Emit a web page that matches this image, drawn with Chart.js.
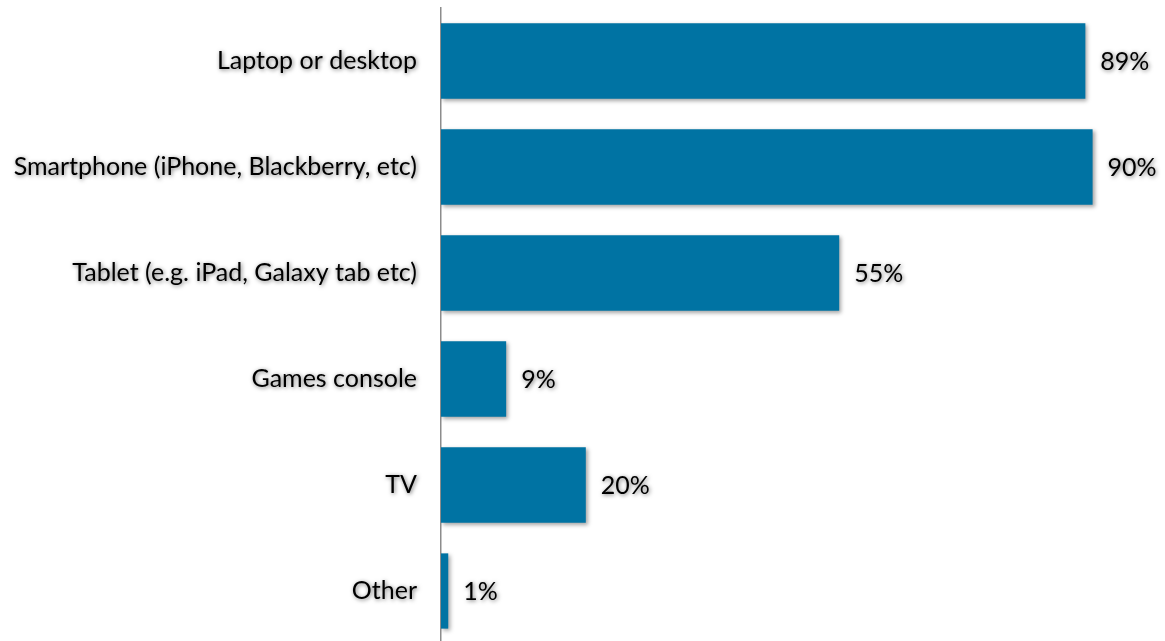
<!DOCTYPE html>
<html>
<head>
<meta charset="utf-8">
<script src="https://cdn.jsdelivr.net/npm/chart.js@4.4.1/dist/chart.umd.min.js"></script>
<style>
html,body{margin:0;padding:0;background:#fff;overflow:hidden;}
canvas{display:block;}
</style>
</head>
<body>
<canvas id="c" width="1165" height="652" style="width:1165px;height:652px"></canvas>
<script>
const categories = ["Laptop or desktop","Smartphone (iPhone, Blackberry, etc)","Tablet (e.g. iPad, Galaxy tab etc)","Games console","TV","Other"];
const values = [89, 90, 55, 9, 20, 1];
const valueLabels = ["89%","90%","55%","9%","20%","1%"];

const FONT = "Lato";

const shadowPlugin = {
  id: 'shadows',
  afterLayout(chart){
    const s = chart.scales.y;
    if (!s._wrapped) {
      const orig = s.drawLabels;
      s.drawLabels = function(area){
        const ctx = this.ctx;
        ctx.save();
        ctx.shadowColor = 'rgba(0,0,0,0.55)';
        ctx.shadowBlur = 4;
        ctx.shadowOffsetX = 1;
        ctx.shadowOffsetY = 1;
        orig.call(this, area);
        ctx.restore();
      };
      s._wrapped = true;
    }
  },
  beforeDatasetDraw(chart){
    const ctx = chart.ctx;
    ctx.save();
    ctx.shadowColor = 'rgba(0,0,0,0.35)';
    ctx.shadowBlur = 4;
    ctx.shadowOffsetX = 2;
    ctx.shadowOffsetY = 2;
  },
  afterDatasetDraw(chart){
    chart.ctx.restore();
  },
  afterDatasetsDraw(chart){
    const ctx = chart.ctx;
    const meta = chart.getDatasetMeta(0);
    ctx.save();
    ctx.font = "25px " + FONT;
    ctx.fillStyle = '#000';
    ctx.textAlign = 'left';
    ctx.textBaseline = 'middle';
    ctx.shadowColor = 'rgba(0,0,0,0.55)';
    ctx.shadowBlur = 4;
    ctx.shadowOffsetX = 1;
    ctx.shadowOffsetY = 1;
    meta.data.forEach((bar, i) => {
      ctx.fillText(valueLabels[i], bar.x + 15, bar.y + 1);
    });
    ctx.restore();
  }
};

new Chart(document.getElementById('c'), {
  type: 'bar',
  data: {
    labels: categories,
    datasets: [{
      data: values,
      backgroundColor: '#0073A3',
      borderWidth: 0,
      categoryPercentage: 1,
      barPercentage: 0.71
    }]
  },
  options: {
    indexAxis: 'y',
    responsive: false,
    animation: false,
    layout: { padding: { top: 8, bottom: 8, left: 0, right: 0 } },
    plugins: { legend: { display: false }, tooltip: { enabled: false } },
    scales: {
      x: { display: false, min: 0, max: 100 },
      y: {
        afterFit(scale){ scale.width = 441; scale.paddingTop = 0; scale.paddingBottom = 0; },
        grid: { display: false, drawTicks: false },
        border: { display: true, color: '#8c8c8c', width: 1.5 },
        ticks: { padding: 24, color: '#000', font: { family: FONT, size: 25 } }
      }
    }
  },
  plugins: [shadowPlugin]
});
</script>
</body>
</html>
